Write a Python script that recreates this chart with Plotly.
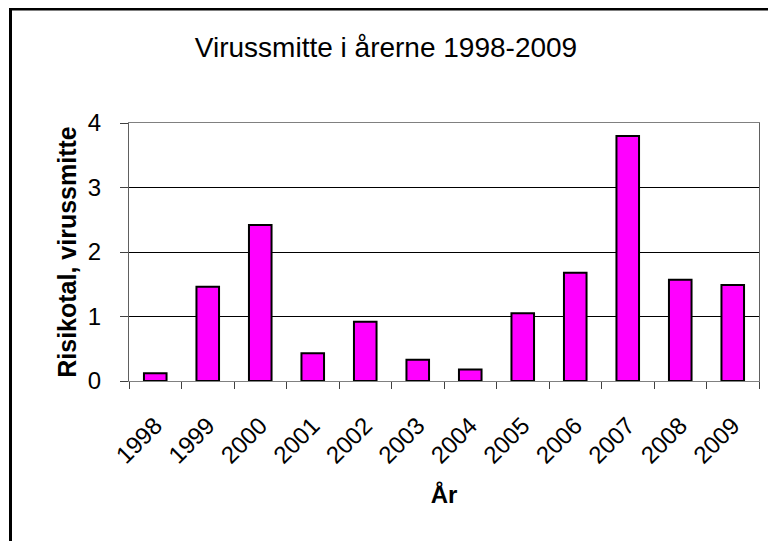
import plotly.graph_objects as go

years = ["1998", "1999", "2000", "2001", "2002", "2003", "2004", "2005", "2006", "2007", "2008", "2009"]
risk = [0.12, 1.46, 2.42, 0.43, 0.92, 0.33, 0.18, 1.05, 1.68, 3.80, 1.57, 1.49]

W, H = 776, 541
OFF = 8  # page body margin
L, R, T, B = 129 - OFF, W - (759 - OFF), 123 - OFF, H - (381 - OFF)
pw, ph = W - L - R, H - T - B

fig = go.Figure(go.Bar(
    x=years, y=risk, width=0.43,
    marker=dict(color="#FF00FF", line=dict(color="black", width=2)),
))

font = "Liberation Sans, Arial, sans-serif"

def px_x(p):
    return (p - OFF - L) / pw

def px_y(p):
    return (H - B - (p - OFF)) / ph

fig.update_layout(
    width=W, height=H,
    margin=dict(l=L, r=R, t=T, b=B),
    paper_bgcolor="white", plot_bgcolor="white",
    showlegend=False,
    font=dict(family=font, color="black"),
    title=dict(text="Virussmitte i årerne 1998-2009", x=(386 - OFF) / W, xref="container",
               xanchor="center", y=1 - (47 - OFF) / H, yref="container", yanchor="middle",
               font=dict(size=28, family=font)),
    xaxis=dict(
        type="category", tickangle=-45, tickson="boundaries",
        ticks="outside", ticklen=7, tickcolor="#404040",
        showline=True, linecolor="#808080", linewidth=1, mirror=True,
        showgrid=False, tickfont=dict(size=24), ticklabelstandoff=20,
        title=dict(text="<b>År</b>", font=dict(size=24), standoff=18),
    ),
    yaxis=dict(
        range=[0, 4], dtick=1, ticks="outside", ticklen=8, tickcolor="#404040",
        showline=True, linecolor="#606060", linewidth=1, mirror=True,
        showgrid=True, gridcolor="#000000", gridwidth=1,
        tickfont=dict(size=24), zeroline=False, ticklabelstandoff=14,
        title=dict(text="<b>Risikotal, virussmitte</b>", font=dict(size=25), standoff=4),
    ),
    shapes=[
        dict(type="line", xref="paper", yref="paper",
             x0=px_x(9), x1=px_x(W + 20), y0=px_y(9), y1=px_y(9),
             line=dict(color="black", width=3)),
        dict(type="line", xref="paper", yref="paper",
             x0=px_x(10.5), x1=px_x(10.5), y0=px_y(9), y1=px_y(H + 20),
             line=dict(color="black", width=3)),
    ],
)

fig.write_html("out.html")
